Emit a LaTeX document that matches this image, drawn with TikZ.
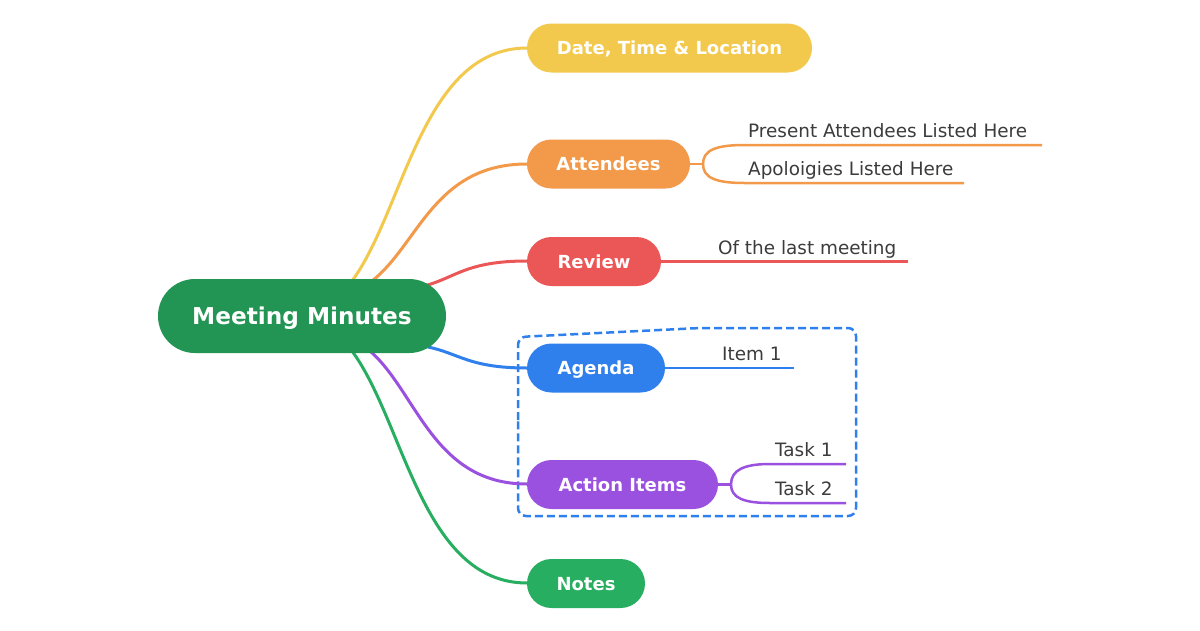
\documentclass[tikz,border=0pt]{standalone}
\usepackage{fontspec}
\setmainfont{DejaVu Sans}
\definecolor{cmain}{HTML}{229453}
\definecolor{cyellow}{HTML}{F2C94C}
\definecolor{corange}{HTML}{F2994A}
\definecolor{cred}{HTML}{EB5757}
\definecolor{cblue}{HTML}{2F80ED}
\definecolor{cpurple}{HTML}{9B51E0}
\definecolor{cgreen}{HTML}{27AE60}
\definecolor{ctext}{HTML}{3C3C3C}
\begin{document}
\begin{tikzpicture}[x=1pt,y=-1pt,
  topic/.style={rectangle, rounded corners=24.5pt, text=white, inner sep=0pt,
    minimum height=49pt, text height=13.1pt, text depth=0pt,
    font=\bfseries\fontsize{18}{21}\selectfont},
  br/.style={line width=3pt, line cap=round},
  sub/.style={text=ctext, inner sep=0pt, font=\fontsize{18.4}{21}\selectfont},
  subline/.style={line width=2.5pt}]
\useasboundingbox (0,0) rectangle (1200,630);
\fill[white] (0,0) rectangle (1200,630);

% dashed boundary
\draw[cblue, line width=2.5pt, dash pattern=on 8pt off 4pt, rounded corners=8pt]
  (518,420) -- (518,337) -- (700,328) -- (856,328) -- (856,516) -- (518,516) -- (518,420);

% coordinates on the central node
\coordinate (sY) at (352,281);
\coordinate (sO) at (372,281);
\coordinate (sR) at (424,286);
\coordinate (sB) at (428,347);
\coordinate (sP) at (370,351);
\coordinate (sG) at (352,351);

% branches
\draw[br, cyellow] (sY) .. controls (404.5,209.7) and (422,48) .. (527,48) coordinate (eY);
\draw[br, corange] (sO) .. controls (418.5,244.5) and (434,164) .. (527,164) coordinate (eO);
\draw[br, cred] (sR) .. controls (455.6,277.8) and (465.8,261) .. (527,261) coordinate (eR);
\draw[br, cblue] (sB) .. controls (459,353.3) and (468.8,368) .. (527,368) coordinate (eB);
\draw[br, cpurple] (sP) .. controls (417,392) and (433,484) .. (527,484) coordinate (eP);
\draw[br, cgreen] (sG) .. controls (404.5,422) and (422,583) .. (527,583) coordinate (eG);

% central node
\node[topic, fill=cmain, minimum width=288pt, minimum height=74pt, rounded corners=36.9pt,
  text height=16.9pt, font=\bfseries\fontsize{23.2}{27}\selectfont] (mm) at (302,316) {Meeting Minutes};

% topics
\node[topic, fill=cyellow, minimum width=285pt] (date) at (669.5,48) {Date, Time \& Location};
\node[topic, fill=corange, minimum width=163pt] (att) at (608.5,164) {Attendees};
\node[topic, fill=cred, minimum width=134pt] (rev) at (594,261.5) {Review};
\node[topic, fill=cblue, minimum width=138pt] (age) at (596,368) {Agenda};
\node[topic, fill=cpurple, minimum width=191pt] (act) at (622.5,484.5) {Action Items};
\node[topic, fill=cgreen, minimum width=118pt] (not) at (586,583.5) {Notes};

% attendees subtopics
\node[sub, anchor=base west] (pa) at (748,137) {Present Attendees Listed Here};
\node[sub, anchor=base west] (ap) at (748,175) {Apoloigies Listed Here};
\coordinate (fA) at (703,164);
\coordinate (pA1) at (1042,145);
\coordinate (pA2) at (964,183);
\draw[subline, corange] (att.east) -- (fA);
\draw[subline, corange] (fA) .. controls (703,150) and (716,145) .. (745,145) -- (pA1);
\draw[subline, corange] (fA) .. controls (703,178) and (716,183) .. (745,183) -- (pA2);

% review subtopic
\node[sub, anchor=base west] (ol) at (718,254) {Of the last meeting};
\coordinate (pR) at (908,261.5);
\draw[subline, cred] (rev.east) -- (pR);

% agenda subtopic
\node[sub, anchor=base west] (i1) at (722,360) {Item 1};
\coordinate (pI) at (794,368);
\draw[subline, cblue] (age.east) -- (pI);

% action items subtopics
\node[sub, anchor=base west] (t1) at (775,456) {Task 1};
\node[sub, anchor=base west] (t2) at (775,495) {Task 2};
\coordinate (fT) at (731,484.5);
\coordinate (pT1) at (846,464);
\coordinate (pT2) at (846,503);
\draw[subline, cpurple] (act.east) -- (fT);
\draw[subline, cpurple] (fT) .. controls (731,470) and (744,464) .. (770,464) -- (pT1);
\draw[subline, cpurple] (fT) .. controls (731,498) and (744,503) .. (770,503) -- (pT2);
\end{tikzpicture}
\end{document}
